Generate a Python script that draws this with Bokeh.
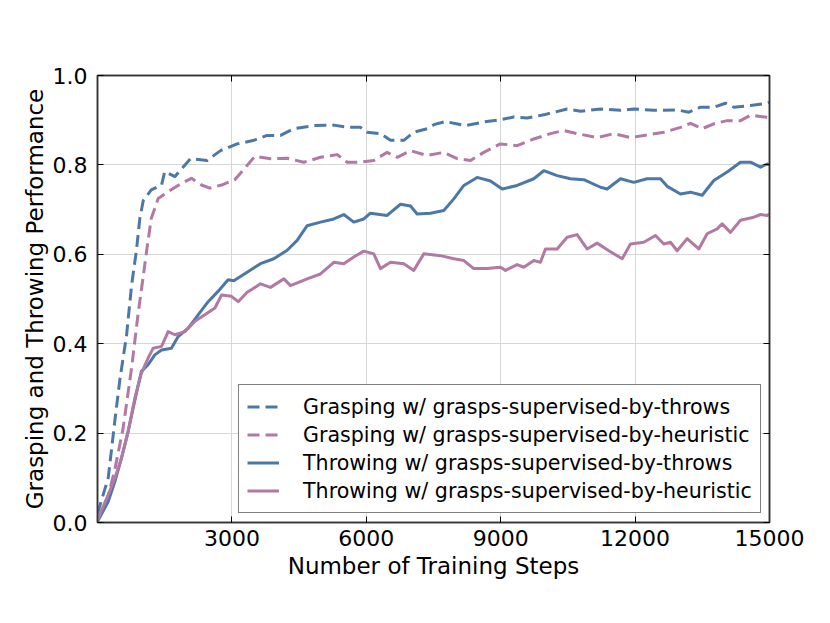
from bokeh.plotting import figure
from bokeh.models import (Range1d, FixedTicker, LinearAxis, Legend, LegendItem,
                          PrintfTickFormatter, ColumnDataSource, CustomJSTickFormatter)
from bokeh.embed import file_html
from bokeh.resources import INLINE

# ---------------- data ----------------
gt_steps = [0, 240, 390, 500, 650, 760, 870, 945, 1020, 1200,
            1430, 1500, 1730, 1870, 2076, 2448, 2745, 3118, 3490, 3787,
            4085, 4382, 4828, 5275, 5573, 5870, 6019, 6316, 6540, 6837,
            7060, 7358, 7507, 7767, 8214, 8623, 8995, 9293, 9590, 9962,
            10483, 10781, 11227, 11674, 11971, 12418, 12939, 13200, 13459, 13757,
            14018, 14204, 14576, 14910, 15000]
gt_vals = [0.02, 0.10, 0.23, 0.32, 0.42, 0.53, 0.61, 0.68, 0.72, 0.744,
           0.755, 0.785, 0.774, 0.79, 0.814, 0.81, 0.832, 0.847, 0.855, 0.866,
           0.866, 0.881, 0.888, 0.889, 0.884, 0.884, 0.873, 0.87, 0.855, 0.855,
           0.873, 0.881, 0.89, 0.897, 0.888, 0.896, 0.901, 0.907, 0.905, 0.912,
           0.925, 0.92, 0.925, 0.922, 0.925, 0.922, 0.923, 0.918, 0.929, 0.929,
           0.938, 0.929, 0.933, 0.937, 0.94]

gh_steps = [0, 240, 390, 570, 760, 910, 1020, 1094, 1200, 1354,
            1577, 1875, 2100, 2320, 2507, 2770, 3065, 3290, 3510, 3861,
            4234, 4605, 4977, 5350, 5573, 5870, 6167, 6465, 6690, 6986,
            7358, 7730, 8028, 8325, 8623, 8995, 9367, 9739, 10111, 10408,
            10706, 11153, 11525, 11897, 12194, 12641, 13013, 13236, 13497, 13757,
            14055, 14352, 14576, 14910, 15000]
gh_vals = [0.006, 0.06, 0.12, 0.21, 0.345, 0.47, 0.55, 0.606, 0.68, 0.725,
           0.74, 0.759, 0.77, 0.755, 0.748, 0.755, 0.767, 0.793, 0.819, 0.814,
           0.815, 0.806, 0.817, 0.823, 0.806, 0.806, 0.81, 0.828, 0.817, 0.832,
           0.821, 0.828, 0.814, 0.81, 0.828, 0.847, 0.843, 0.858, 0.87, 0.877,
           0.87, 0.861, 0.87, 0.861, 0.866, 0.873, 0.884, 0.893, 0.881, 0.892,
           0.899, 0.899, 0.911, 0.907, 0.905]

tt_steps = [0, 240, 390, 535, 685, 795, 910, 980, 1130, 1280,
            1430, 1650, 1800, 2024, 2250, 2470, 2690, 2915, 3043, 3340,
            3638, 3935, 4234, 4457, 4680, 4977, 5275, 5498, 5720, 5944,
            6093, 6465, 6763, 6986, 7135, 7433, 7730, 7953, 8177, 8475,
            8772, 9033, 9367, 9739, 9962, 10260, 10557, 10855, 11227, 11376,
            11674, 11971, 12269, 12567, 12716, 13013, 13236, 13497, 13757, 14055,
            14352, 14576, 14800, 14948, 15000]
tt_vals = [0.002, 0.047, 0.092, 0.144, 0.204, 0.256, 0.308, 0.338, 0.353, 0.375,
           0.386, 0.39, 0.416, 0.435, 0.465, 0.494, 0.517, 0.543, 0.541, 0.56,
           0.579, 0.59, 0.609, 0.631, 0.664, 0.672, 0.679, 0.689, 0.672, 0.679,
           0.692, 0.687, 0.712, 0.708, 0.69, 0.692, 0.698, 0.724, 0.754, 0.772,
           0.764, 0.746, 0.754, 0.769, 0.787, 0.776, 0.769, 0.767, 0.75, 0.746,
           0.769, 0.761, 0.769, 0.769, 0.752, 0.735, 0.739, 0.732, 0.765, 0.784,
           0.806, 0.806, 0.795, 0.802, 0.80]

th_steps = [0, 240, 390, 535, 685, 833, 980, 1130, 1243, 1430,
            1577, 1727, 1950, 2173, 2396, 2620, 2770, 2990, 3140, 3340,
            3638, 3861, 4160, 4308, 4680, 4977, 5275, 5498, 5720, 5944,
            6167, 6316, 6540, 6837, 7060, 7283, 7656, 7953, 8177, 8400,
            8698, 8995, 9107, 9367, 9516, 9739, 9888, 9999, 10260, 10483,
            10706, 10929, 11153, 11413, 11711, 11897, 12194, 12455, 12641, 12790,
            12939, 13162, 13422, 13608, 13831, 13943, 14129, 14352, 14650, 14800,
            14948, 15000]
th_vals = [0.006, 0.062, 0.1, 0.144, 0.204, 0.278, 0.334, 0.368, 0.39, 0.394,
           0.427, 0.42, 0.427, 0.45, 0.465, 0.48, 0.509, 0.506, 0.494, 0.515,
           0.534, 0.526, 0.545, 0.53, 0.545, 0.556, 0.582, 0.579, 0.594, 0.607,
           0.601, 0.568, 0.582, 0.579, 0.564, 0.601, 0.597, 0.59, 0.586, 0.568,
           0.568, 0.571, 0.564, 0.577, 0.571, 0.586, 0.582, 0.612, 0.612, 0.638,
           0.644, 0.612, 0.625, 0.608, 0.59, 0.623, 0.627, 0.642, 0.623, 0.627,
           0.608, 0.635, 0.612, 0.646, 0.657, 0.668, 0.649, 0.676, 0.683, 0.689,
           0.687, 0.69]

labels = ["Grasping w/ grasps-supervised-by-throws",
          "Grasping w/ grasps-supervised-by-heuristic",
          "Throwing w/ grasps-supervised-by-throws",
          "Throwing w/ grasps-supervised-by-heuristic"]
x_ticks = [3000, 6000, 9000, 12000, 15000]
y_ticks = [0.0, 0.2, 0.4, 0.6, 0.8, 1.0]

BLUE = "#4c78a8"
PINK = "#b279a2"
FONT = "DejaVu Sans"

# ---------------- figure ----------------
p = figure(width=822, height=615, output_backend="svg", toolbar_location=None,
           x_range=Range1d(0, 15000), y_range=Range1d(0, 1.0),
           min_border_left=97, min_border_right=53, min_border_top=75,
           min_border_bottom=93, x_axis_label="Number of Training Steps",
           y_axis_label="Grasping and Throwing Performance")
p.background_fill_color = "white"
p.border_fill_color = "white"
p.outline_line_color = "#333333"
p.outline_line_width = 1.5

for ax in (p.xaxis[0], p.yaxis[0]):
    ax.axis_line_color = "#333333"
    ax.axis_line_width = 1.5
    ax.major_tick_in = 6
    ax.major_tick_out = 0
    ax.minor_tick_in = 0
    ax.minor_tick_out = 0
    ax.major_tick_line_color = "black"
    ax.major_label_text_font = FONT
    ax.major_label_text_font_size = "22px"
    ax.major_label_text_color = "black"
    ax.axis_label_text_font = FONT
    ax.axis_label_text_font_size = "23px"
    ax.axis_label_text_font_style = "normal"
    ax.axis_label_text_color = "black"

p.xaxis[0].ticker = FixedTicker(ticks=x_ticks)
p.yaxis[0].ticker = FixedTicker(ticks=y_ticks)
p.yaxis[0].formatter = PrintfTickFormatter(format="%.1f")
p.xaxis[0].major_label_standoff = 7
p.xaxis[0].axis_label_standoff = 4
p.yaxis[0].major_label_standoff = 10
p.yaxis[0].axis_label_standoff = 2

for loc in ("above", "right"):
    ax = LinearAxis(ticker=FixedTicker(ticks=x_ticks if loc == "above" else y_ticks),
                    formatter=CustomJSTickFormatter(code="return ''"))
    ax.major_label_standoff = 0
    ax.major_tick_in = 6
    ax.major_tick_out = 0
    ax.minor_tick_in = 0
    ax.minor_tick_out = 0
    ax.axis_line_color = "#333333"
    ax.axis_line_width = 1.5
    ax.major_tick_line_color = "black"
    p.add_layout(ax, loc)

p.xgrid.ticker = FixedTicker(ticks=x_ticks)
p.ygrid.ticker = FixedTicker(ticks=y_ticks)
p.grid.grid_line_color = "#d6d6d6"
p.grid.grid_line_width = 1

series = [(gt_steps, gt_vals, BLUE, "12 6"),
          (gh_steps, gh_vals, PINK, "12 6"),
          (tt_steps, tt_vals, BLUE, "solid"),
          (th_steps, th_vals, PINK, "solid")]
renderers = []
for xs, ys, col, dash in series:
    src = ColumnDataSource(dict(x=xs, y=ys))
    r = p.line("x", "y", source=src, line_color=col, line_width=3,
               line_dash=dash, line_join="round")
    renderers.append(r)

legend = Legend(items=[LegendItem(label=l, renderers=[r]) for l, r in zip(labels, renderers)],
                location=(141, 9))
legend.label_text_font = FONT
legend.label_text_font_size = "20.6px"
legend.label_text_color = "black"
legend.glyph_width = 32
legend.glyph_height = 27
legend.label_height = 27
legend.label_standoff = 24
legend.spacing = 1
legend.padding = 8
legend.margin = 0
legend.border_line_color = "black"
legend.border_line_width = 1.5
legend.background_fill_alpha = 1.0
p.add_layout(legend, "center")

open("out.html", "w").write(file_html(p, INLINE))
